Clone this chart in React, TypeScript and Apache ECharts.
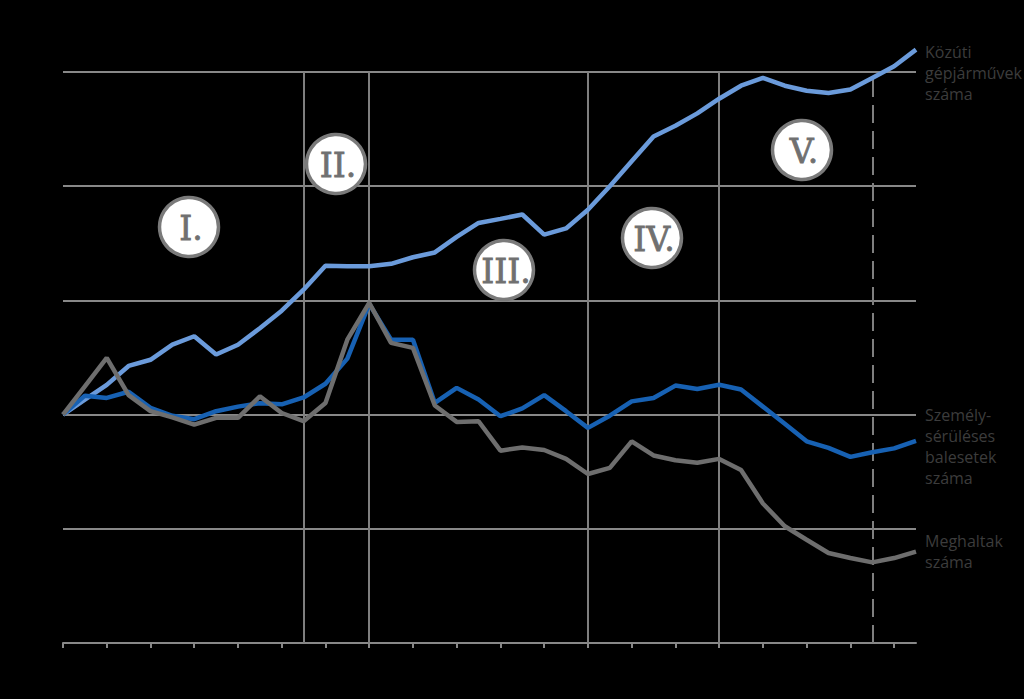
import React, { useEffect, useRef } from "react";
import * as echarts from "echarts";

const years = [
  "1975", "1976", "1977", "1978", "1979", "1980", "1981", "1982", "1983", "1984",
  "1985", "1986", "1987", "1988", "1989", "1990", "1991", "1992", "1993", "1994",
  "1995", "1996", "1997", "1998", "1999", "2000", "2001", "2002", "2003", "2004",
  "2005", "2006", "2007", "2008", "2009", "2010", "2011", "2012", "2013", "2014",
];

// Index values (first year = 100)
const vehicles = [
  100, 106.6, 113, 121.3, 124, 130.6, 134.3, 126.3, 130.6, 137.8,
  145.5, 154.7, 165.2, 165, 165, 166, 168.9, 171, 177.8, 183.9,
  185.7, 187.6, 178.8, 181.5, 189.7, 200, 210.9, 221.8, 226.5, 231.9,
  238.3, 244, 247.4, 244, 241.8, 240.8, 242.3, 247.4, 252.5, 259.8,
];

const injuryAccidents = [
  100, 108.3, 107.3, 110, 103, 99.5, 98, 101.5, 103.5, 105,
  104.5, 107.5, 113.5, 124.5, 148.5, 132.8, 132.8, 105.1, 111.7, 106.6,
  99.3, 102.7, 108.5, 101.5, 94.2, 99.5, 105.8, 107.3, 112.7, 111.2,
  113.1, 111, 103.5, 96, 88.3, 85.4, 81.5, 83.5, 85.2, 88.5,
];

const deaths = [
  100, 112.4, 124.8, 108.5, 101.5, 98.8, 95.6, 98.6, 98.6, 108,
  100.7, 97.1, 105.1, 132.8, 148.9, 131.4, 129.2, 104, 96.8, 97.1,
  84.2, 85.6, 84.5, 80.6, 74, 76.7, 88.3, 82.1, 80, 78.9,
  80.6, 75.7, 61.1, 51.1, 45.2, 39.4, 37.2, 35.3, 37.2, 40,
];

const periodBoundaries = ["1986", "1989", "1999", "2005"];
const forecastStart = "2012";
const periodLabels = ["I.", "II.", "III.", "IV.", "V."];
const seriesLabels = [
  "Közúti\ngépjárművek\nszáma",
  "Személy-\nsérüléses\nbalesetek\nszáma",
  "Meghaltak\nszáma",
];

const GRID = "#888888";
const LABEL_COLOR = "#3c3c3c";

export default function App() {
  const ref = useRef<HTMLDivElement>(null);

  useEffect(() => {
    if (!ref.current) return;
    const chart = echarts.init(ref.current, undefined, { renderer: "svg" });

    const circlePos = [
      [189, 227],
      [336, 164],
      [504, 270],
      [652, 238],
      [802, 150],
    ];
    const circles: any[] = [];
    periodLabels.forEach((lab, k) => {
      const [cx, cy] = circlePos[k];
      circles.push({
        type: "circle",
        shape: { cx, cy, r: 29.5 },
        style: { fill: "#ffffff", stroke: "#7a7a7a", lineWidth: 3.5 },
        z: 20,
      });
      circles.push({
        type: "text",
        x: cx + 2,
        y: cy + 1,
        style: {
          text: lab,
          fill: "#707070",
          fontSize: 33,
          fontFamily: "DejaVu Serif",
          fontWeight: "normal",
          align: "center",
          verticalAlign: "middle",
          stroke: "#707070",
          lineWidth: 0.8,
        },
        z: 21,
      });
    });

    const labelTops = [41, 404, 530];
    const texts = seriesLabels.map((t, k) => ({
      type: "text",
      x: 925,
      y: labelTops[k],
      style: {
        text: t,
        fill: LABEL_COLOR,
        fontSize: 16,
        fontFamily: "Open Sans",
        lineHeight: 21,
        align: "left",
        verticalAlign: "top",
      },
      z: 20,
    }));

    const lineBase = {
      type: "line",
      symbol: "none",
      clip: false,
      z: 10,
      silent: true,
    };

    chart.setOption({
      animation: false,
      backgroundColor: "#000000",
      grid: { left: 63, right: 108, top: 72, bottom: 56 },
      xAxis: {
        type: "category",
        data: years,
        boundaryGap: false,
        axisLine: { show: true, lineStyle: { color: GRID, width: 2 } },
        axisTick: { show: true, interval: 1, length: 5, lineStyle: { color: GRID, width: 2 } },
        axisLabel: { show: false },
        splitLine: { show: false },
      },
      yAxis: {
        type: "value",
        min: 0,
        max: 250,
        interval: 50,
        axisLine: { show: false },
        axisTick: { show: false },
        axisLabel: { show: false },
        splitLine: { show: true, lineStyle: { color: GRID, width: 2 } },
      },
      series: [
        {
          ...lineBase,
          name: "Közúti gépjárművek száma",
          data: vehicles,
          lineStyle: { color: "#6b9bdb", width: 4.5 },
          markLine: {
            silent: true,
            symbol: "none",
            z: 1,
            label: { show: false },
            lineStyle: { color: "#7f7f7f", width: 2, type: "solid" },
            data: [
              ...periodBoundaries.map((y) => ({ xAxis: y })),
              { xAxis: forecastStart, lineStyle: { color: "#7f7f7f", width: 2, type: [18, 8] } },
            ],
          },
        },
        {
          ...lineBase,
          name: "Személysérüléses balesetek száma",
          data: injuryAccidents,
          lineStyle: { color: "#1761b3", width: 4.5 },
        },
        {
          ...lineBase,
          name: "Meghaltak száma",
          data: deaths,
          lineStyle: { color: "#6e6e6e", width: 4.5 },
        },
      ],
      graphic: [...circles, ...texts],
    });

    return () => chart.dispose();
  }, []);

  return (
    <div
      ref={ref}
      style={{ position: "fixed", left: 0, top: 0, width: 1024, height: 699, background: "#000" }}
    />
  );
}
